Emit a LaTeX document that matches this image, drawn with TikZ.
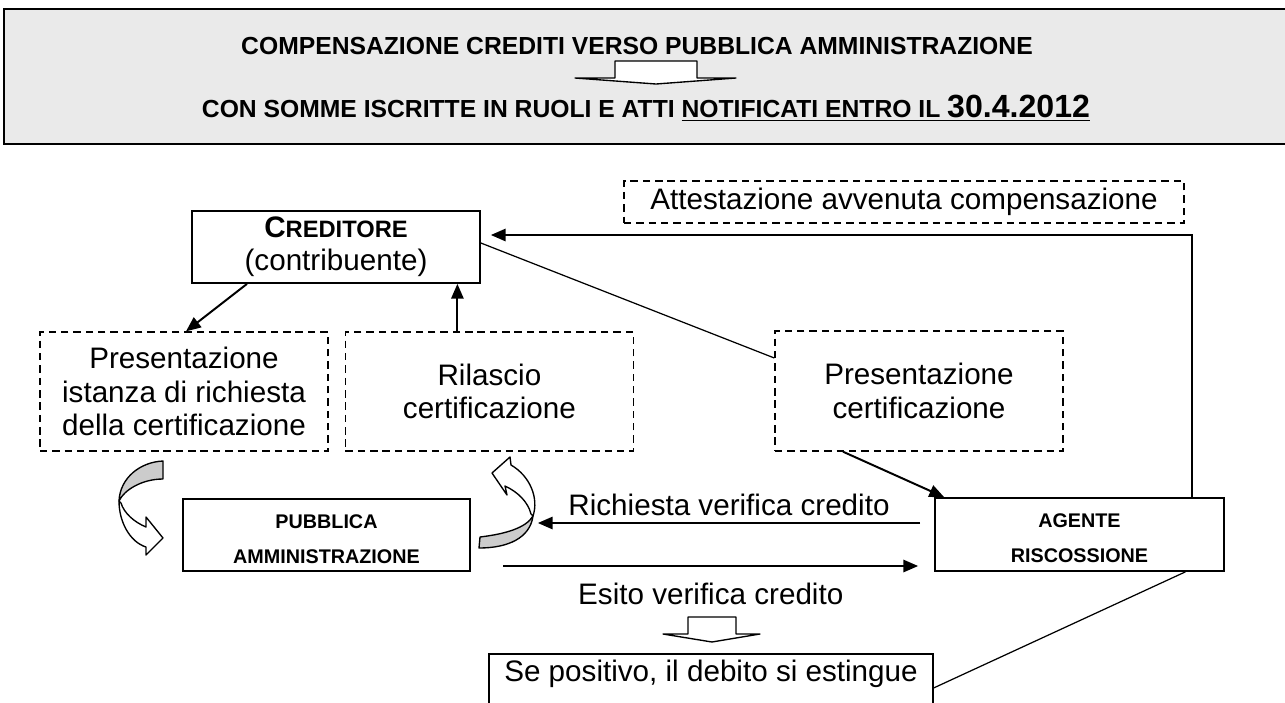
\documentclass[tikz,border=0pt]{standalone}
\usepackage{fontspec}
\setmainfont{Liberation Sans}
\usetikzlibrary{positioning, arrows.meta}
\definecolor{headgray}{RGB}{234,234,234}
\definecolor{bandgray}{RGB}{204,204,204}
\def\u{0.405pt}
\newcommand{\lift}{\rule{0pt}{8.6pt}}

\begin{document}
\begin{tikzpicture}[
        x=\u, y=-\u,
        font=\fontsize{12}{13.5}\selectfont,
        solidbox/.style={rectangle, draw, line width=0.7pt, align=center, inner sep=0pt},
        dashbox/.style={rectangle, draw, dash pattern=on 3pt off 2pt, line width=0.55pt, align=center, inner sep=0pt},
        smallbold/.style={font=\fontsize{8}{14.2}\selectfont\bfseries},
        arr/.style={-{Triangle[length=6pt, width=5pt]}, line width=0.8pt},
        thinline/.style={line width=0.5pt},
        band/.style={draw, line width=0.55pt, line join=round},
    ]
        \useasboundingbox (0,0) rectangle (1285,702);

        % header
        \node[draw, fill=headgray, line width=0.8pt, minimum width=1295*\u, minimum height=135*\u, anchor=north west] (head) at (3,8) {};
        \node[anchor=base, font=\fontsize{10}{12}\selectfont\bfseries] (title) at (637,54) {COMPENSAZIONE CREDITI VERSO PUBBLICA AMMINISTRAZIONE};
        \node[anchor=base, font=\fontsize{10}{12}\selectfont\bfseries] (subtitle) at (646,117) {CON SOMME ISCRITTE IN RUOLI E ATTI \underline{NOTIFICATI ENTRO IL {\fontsize{13}{16}\selectfont 30.4.2012}}};
        \draw[band, fill=white] (615,61) -- (697,61) -- (697,78) -- (736,78) -- (656,84) -- (575,78) -- (615,78) -- cycle;

        % nodes
        \node[solidbox, minimum width=288*\u, minimum height=72*\u, font=\fontsize{12}{13.4}\selectfont] (creditore) at (336,247) {\textbf{C{\fontsize{9.6}{12}\selectfont REDITORE}}\\(contribuente)};
        \node[dashbox, minimum width=560*\u, minimum height=42*\u] (attest) at (904,202) {Attestazione avvenuta compensazione};
        \node[dashbox, minimum width=288*\u, minimum height=119*\u] (istanza) at (184,391.5) {Presentazione\\istanza di richiesta\\della certificazione};
        \node[dashbox, minimum width=288*\u, minimum height=119*\u, right=6.5pt of istanza] (rilascio) {Rilascio\\certificazione};
        \node[dashbox, minimum width=288*\u, minimum height=120*\u] (certif) at (919,391) {Presentazione\\certificazione};
        \node[solidbox, smallbold, minimum width=287*\u, minimum height=72*\u] (pa) at (326.5,535) {\lift PUBBLICA\\AMMINISTRAZIONE};
        \node[solidbox, smallbold, minimum width=289*\u, minimum height=73*\u] (agente) at (1079.5,534.5) {\lift AGENTE\\RISCOSSIONE};
        \node[solidbox, anchor=north, minimum width=444*\u, text height=11.34pt, text depth=16.2pt] (positivo) at (711,653) {Se positivo, il debito si estingue};

        % connectors
        \draw[arr] ([shift={(112.5,0)}]agente.north) |- ([shift={(10,-12)}]creditore.east);
        \draw[arr] ([shift={(-89,0)}]creditore.south) -- ([shift={(2,0)}]istanza.north);
        \draw[arr] ([shift={(-32,0)}]rilascio.north) -- ([shift={(-32,0)}]rilascio.north |- creditore.south);
        \draw[thinline] ([shift={(0,-4)}]creditore.east) -- ([shift={(0,-33)}]certif.west);
        \draw[arr] ([shift={(-76,0)}]certif.south) -- ([shift={(10,0)}]agente.north west);
        \draw[arr] ([shift={(-14,-11.5)}]agente.west) -- ([shift={(67,-12)}]pa.east)
            node[midway, above=-1pt] (richiesta) {Richiesta verifica credito};
        \draw[arr] ([shift={(32.5,31)}]pa.east) -- ([shift={(-16,31.5)}]agente.west)
            node[midway, below=3.3pt] (esito) {Esito verifica credito};
        \draw[band, fill=white] (688,617) -- (736,617) -- (736,634) -- (760,634) -- (712,642) -- (663,634) -- (688,634) -- cycle;
        \draw[thinline] ([shift={(-39.5,0)}]agente.south east) -- (positivo.east);

        % curved arrow, left
        \draw[band, fill=bandgray] (163,461) .. controls (140,462) and (120,478) .. (119,501)
            .. controls (124,490) and (142,479) .. (163,479) -- cycle;
        \draw[band, fill=white] (119,501) .. controls (119,522) and (130,542) .. (146,547)
            -- (146,555) -- (163,538) -- (146,517) -- (146,527)
            .. controls (134,522) and (124,513) .. (121,503) -- cycle;

        % curved arrow, right
        \draw[band, fill=bandgray] (480,537) .. controls (505,534) and (526,528) .. (533,516)
            .. controls (530,538) and (508,548) .. (479,548) -- cycle;
        \draw[band, fill=white] (533,516) .. controls (539,498) and (530,476) .. (511,465)
            -- (510,457) -- (492,473) -- (507,495) -- (505,486)
            .. controls (518,492) and (528,502) .. (531,514) -- cycle;
    \end{tikzpicture}
\end{document}
